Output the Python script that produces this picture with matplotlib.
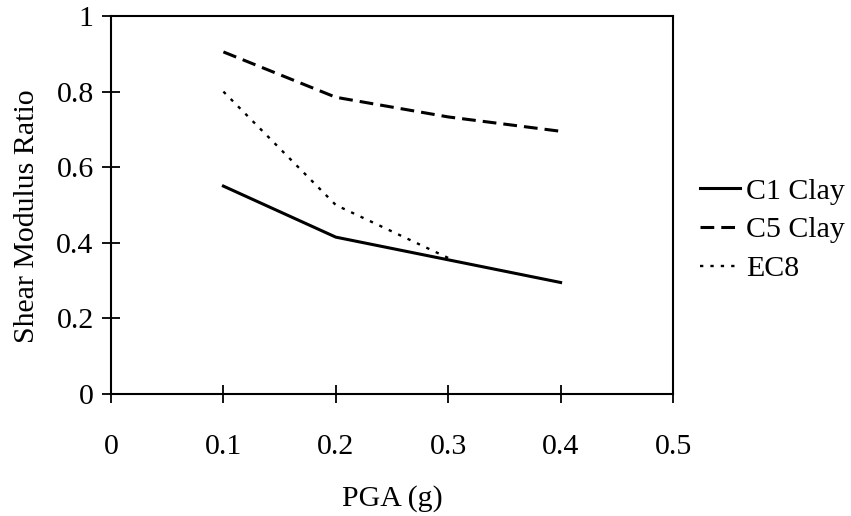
import matplotlib
matplotlib.use("Agg")
import matplotlib.pyplot as plt

# values
pga = [0.1, 0.2, 0.3, 0.4]
c1_clay = [0.55, 0.415, 0.355, 0.295]
c5_clay = [0.905, 0.785, 0.733, 0.695]
ec8_pga = [0.1, 0.2, 0.3]
ec8 = [0.80, 0.50, 0.36]

xticks = [0, 0.1, 0.2, 0.3, 0.4, 0.5]
yticks = [0, 0.2, 0.4, 0.6, 0.8, 1]

plt.rcParams['font.family'] = ['Liberation Serif', 'DejaVu Serif']
fs = 21.5

fig = plt.figure(figsize=(8.51, 5.16), dpi=100)
ax = fig.add_axes([111 / 851, 1 - 394 / 516, (673 - 111) / 851, (394 - 16) / 516])

ax.plot(pga, c1_clay, color='black', lw=2.2, ls='-', label='C1 Clay')
ax.plot(pga, c5_clay, color='black', lw=2.2, ls=(0, (4.5, 2.3)), label='C5 Clay')
ax.plot(ec8_pga, ec8, color='black', lw=1.7, ls=(0, (1.4, 3)), label='EC8')

ax.set_xlim(0, 0.5)
ax.set_ylim(0, 1)
ax.set_xticks(xticks)
ax.set_xticklabels(['0', '0.1', '0.2', '0.3', '0.4', '0.5'])
ax.set_yticks(yticks)
ax.set_yticklabels(['0', '0.2', '0.4', '0.6', '0.8', '1'])
ax.tick_params(direction='inout', length=13, width=1.3, labelsize=fs)
ax.tick_params(axis='y', pad=6)
ax.tick_params(axis='x', pad=22)
for s in ax.spines.values():
    s.set_linewidth(1.5)

ax.set_xlabel('PGA (g)', fontsize=fs)
ax.set_ylabel('Shear Modulus Ratio', fontsize=fs)
ax.xaxis.set_label_coords(0.5, -0.24)
ax.yaxis.set_label_coords(-0.127, 0.47)

ax.legend(loc='center left', bbox_to_anchor=(700 / 851, 1 - 230 / 516),
          bbox_transform=fig.transFigure, frameon=False, fontsize=fs,
          handlelength=1.35, handletextpad=0.2, labelspacing=0.4,
          borderpad=0, borderaxespad=0)

fig.savefig('out.png', dpi=100)
